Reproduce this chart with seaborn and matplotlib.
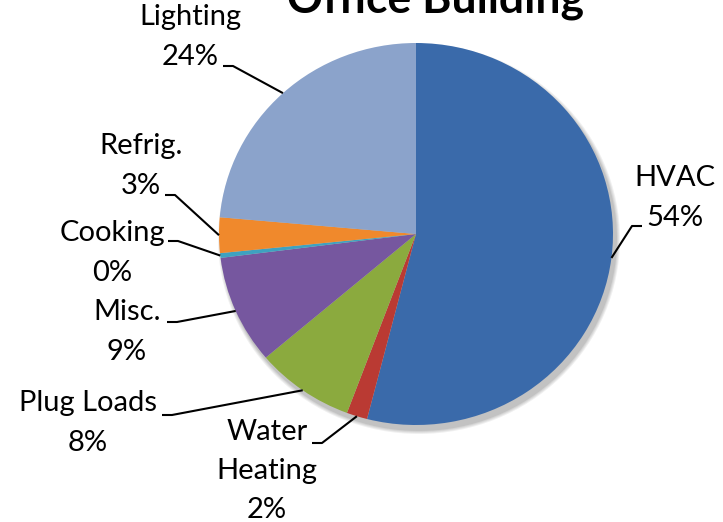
import numpy as np
import matplotlib
matplotlib.use("Agg")
import matplotlib.pyplot as plt
from matplotlib.patches import Ellipse
import seaborn as sns

# ---- data ----
categories = ["HVAC", "Water\nHeating", "Plug Loads", "Misc.", "Cooking", "Refrig.", "Lighting"]
shares = [54.0, 1.7, 8.1, 9.2, 0.4, 3.0, 23.6]
colors = ["#3A6AAA", "#BA3A33", "#8BAA3E", "#76579F", "#3EA2C0", "#F0892C", "#8BA3CB"]
title = "Office Building"

sns.set_theme(style="white")
plt.rcParams['font.family'] = ['Lato', 'DejaVu Sans']

W, H = 723, 522
CX, CY, RX, RY = 416, 234, 197, 191

fig = plt.figure(figsize=(W / 100, H / 100), dpi=100)
ax = fig.add_axes([0, 0, 1, 1])

def P(px, py):
    return ((px - CX) / RX, (CY - py) / RY)

# soft shadow
for i, a in enumerate([0.06, 0.06, 0.06, 0.08]):
    grow = (4 - i) * 2
    e = Ellipse(P(CX + 3, CY + 5), (2 * RX + grow) / RX, (2 * RY + grow) / RY,
                facecolor="black", alpha=a, edgecolor="none", zorder=0)
    ax.add_patch(e)

wedges, _ = ax.pie(shares, colors=sns.color_palette(colors), startangle=90,
                   counterclock=False, radius=1.0,
                   wedgeprops=dict(edgecolor="none", linewidth=0))
for w in wedges:
    w.set_zorder(2)

ax.set_aspect('auto')
x0, y0 = P(0, 0)
x1, y1 = P(W, H)
ax.set_xlim(x0, x1)
ax.set_ylim(y1, y0)
ax.axis('off')

total = sum(shares)
labels = [f"{c}\n{round(v / total * 100):d}%" for c, v in zip(categories, shares)]

# label layout: text block center (px), leader start (px), direction of short hook
layout = {
    "HVAC":       ((675, 198), (642, 226), -1),
    "Water\nHeating": ((267, 471), (312, 443), 1),
    "Plug Loads": ((88, 423), (162, 415), 1),
    "Misc.":      ((127, 332), (167, 322), 1),
    "Cooking":    ((112, 253), (168, 241), 1),
    "Refrig.":    ((141, 166), (165, 195), 1),
    "Lighting":   ((190, 37), (223, 66), 1),
}

for w, c, lab in zip(wedges, categories, labels):
    (tx, ty), (sx, sy), d = layout[c]
    ax.text(*P(tx, ty), lab, ha="center", va="center", fontsize=21,
            linespacing=1.64, color="black", zorder=5)
    mid = np.deg2rad((w.theta1 + w.theta2) / 2)
    ex, ey = np.cos(mid), np.sin(mid)
    ax1, ay1 = P(sx, sy)
    ax2, ay2 = P(sx + d * 10, sy)
    ax.plot([ax1, ax2, ex], [ay1, ay2, ey], color="black", lw=1.5, zorder=4,
            solid_capstyle="butt")

ax.text(*P(435, 12), title, ha="center", va="baseline", fontsize=32,
        fontweight="bold", color="black", zorder=5)

fig.savefig("out.png", dpi=100)
